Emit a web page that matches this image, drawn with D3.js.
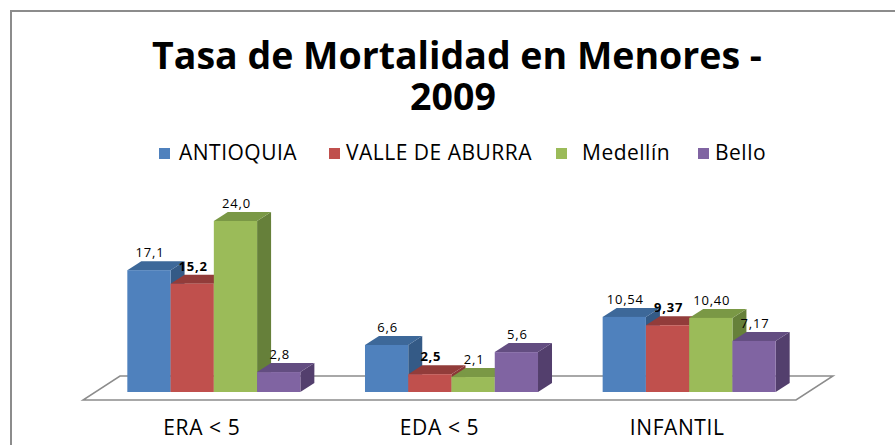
<!DOCTYPE html>
<html>
<head>
<meta charset="utf-8">
<script src="https://cdn.jsdelivr.net/npm/d3@7"></script>
<style>
  body { margin: 0; background: #fff; }
  text { font-family: "Open Sans", "Liberation Sans", sans-serif; }
</style>
</head>
<body>
<div class="chart"></div>
<script>
var svgWidth = 895;
var svgHeight = 445;

// chart data
var categories = ["ERA < 5", "EDA < 5", "INFANTIL"];
var seriesNames = ["ANTIOQUIA", "VALLE DE ABURRA", "Medellín", "Bello"];
var antioquia = [17.1, 6.6, 10.54];
var valleAburra = [15.2, 2.5, 9.37];
var medellin = [24.0, 2.1, 10.40];
var bello = [2.8, 5.6, 7.17];
var valueLabels = [
  ["17,1", "6,6", "10,54"],
  ["15,2", "2,5", "9,37"],
  ["24,0", "2,1", "10,40"],
  ["2,8", "5,6", "7,17"]
];

var seriesValues = [antioquia, valleAburra, medellin, bello];
var colors = [
  { front: "#4F81BD", top: "#3D6899", side: "#345A86" },
  { front: "#C0504D", top: "#923C3A", side: "#8A3836" },
  { front: "#9BBB59", top: "#7A9845", side: "#66803A" },
  { front: "#8064A2", top: "#634D81", side: "#533F6D" }
];

// depth offsets for the fake 3D
var depthX = 14, depthY = 9;

var svg = d3.select(".chart")
  .append("svg")
  .attr("width", svgWidth)
  .attr("height", svgHeight);

// outer frame (only top and left visible)
svg.append("path")
  .attr("d", "M11,445 L11,11 L895,11")
  .attr("fill", "none")
  .attr("stroke", "#8c8c8c")
  .attr("stroke-width", 2);

// title
svg.append("text")
  .attr("x", 457).attr("y", 69)
  .attr("text-anchor", "middle")
  .attr("font-size", 37.5).attr("font-weight", "bold")
  .attr("fill", "#000")
  .text("Tasa de Mortalidad en Menores -");
svg.append("text")
  .attr("x", 453).attr("y", 110)
  .attr("text-anchor", "middle")
  .attr("font-size", 37.5).attr("font-weight", "bold")
  .attr("fill", "#000")
  .text("2009");

// legend
var legendX = [159, 329, 556, 698];
var legendTextX = [179, 346, 582, 715];
var legend = svg.append("g").selectAll("g")
  .data(seriesNames)
  .enter()
  .append("g");
legend.append("rect")
  .attr("x", (d, i) => legendX[i])
  .attr("y", 148)
  .attr("width", 11).attr("height", 11)
  .attr("fill", (d, i) => colors[i].front);
legend.append("text")
  .attr("x", (d, i) => legendTextX[i])
  .attr("y", 160)
  .attr("font-size", 21)
  .attr("letter-spacing", 0.5)
  .attr("fill", "#000")
  .text(d => d);

// scales
var baseY = 392;
var yScale = d3.scaleLinear()
  .domain([0, 24])
  .range([baseY, 221]);

var x0 = d3.scaleBand()
  .domain(categories)
  .range([95, 808])
  .paddingInner(0.272)
  .paddingOuter(0.136);

var x1 = d3.scaleBand()
  .domain(d3.range(seriesNames.length))
  .range([0, x0.bandwidth()]);

// floor
var floorFront = 400, floorBack = 376;
svg.append("path")
  .attr("d", `M83,${floorFront} L796,${floorFront} L833,${floorBack} L120,${floorBack} Z`)
  .attr("fill", "#fff")
  .attr("stroke", "#8c8c8c")
  .attr("stroke-width", 1.5);

// flatten, drawn left to right so each front face covers the previous side
var bars = [];
categories.forEach(function(cat, ci) {
  seriesValues.forEach(function(vals, si) {
    bars.push({ cat: cat, ci: ci, si: si, value: vals[ci], label: valueLabels[si][ci] });
  });
});

var bw = x1.bandwidth();

var barG = svg.append("g").selectAll("g")
  .data(bars)
  .enter()
  .append("g");

// side face
barG.append("path")
  .attr("fill", d => colors[d.si].side)
  .attr("d", function(d) {
    var x = x0(d.cat) + x1(d.si) + bw, y = yScale(d.value);
    return `M${x},${y} L${x + depthX},${y - depthY} L${x + depthX},${baseY - depthY} L${x},${baseY} Z`;
  });
// top face
barG.append("path")
  .attr("fill", d => colors[d.si].top)
  .attr("d", function(d) {
    var x = x0(d.cat) + x1(d.si), y = yScale(d.value);
    return `M${x},${y} L${x + depthX},${y - depthY} L${x + bw + depthX},${y - depthY} L${x + bw},${y} Z`;
  });
// front face
barG.append("rect")
  .attr("x", d => x0(d.cat) + x1(d.si))
  .attr("y", d => yScale(d.value))
  .attr("width", bw)
  .attr("height", d => baseY - yScale(d.value))
  .attr("fill", d => colors[d.si].front);

// value labels
svg.append("g").selectAll("text")
  .data(bars)
  .enter()
  .append("text")
  .attr("x", d => x0(d.cat) + x1(d.si) + bw / 2 + 1)
  .attr("y", d => yScale(d.value) - 13)
  .attr("text-anchor", "middle")
  .attr("font-size", 13)
  .attr("letter-spacing", 0.8)
  .attr("font-weight", d => d.si === 1 ? "bold" : "normal")
  .attr("fill", "#000")
  .text(d => d.label);

// category labels
svg.append("g").selectAll("text")
  .data(categories)
  .enter()
  .append("text")
  .attr("x", d => x0(d) + x0.bandwidth() / 2 - 12)
  .attr("y", 435)
  .attr("text-anchor", "middle")
  .attr("font-size", 21)
  .attr("letter-spacing", 0.6)
  .attr("fill", "#000")
  .text(d => d);
</script>
</body>
</html>
